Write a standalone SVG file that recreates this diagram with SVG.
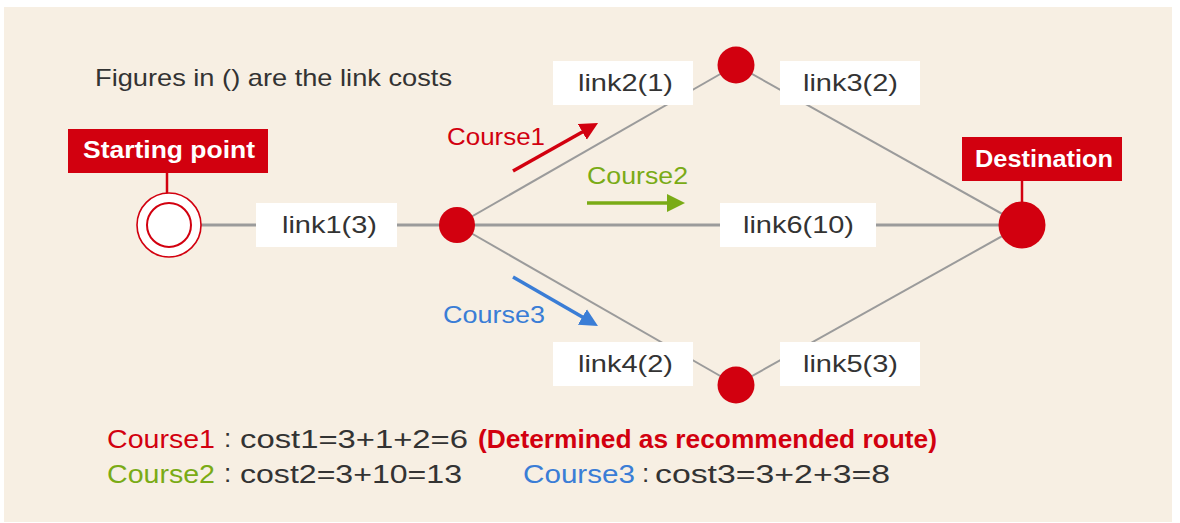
<svg xmlns="http://www.w3.org/2000/svg" width="1180" height="523" viewBox="0 0 1180 523">
  <style>
    text { font-family: "Liberation Sans", Arial, sans-serif; }
    .dark { fill: #333333; }
    .red { fill: #d2000f; }
    .green { fill: #7aab16; }
    .blue { fill: #3a7dd6; }
    .link { stroke: #9b9b9b; fill: none; }
    .thick { stroke-width: 3; }
    .thin { stroke-width: 2; }
    .box { fill: #ffffff; }
    .lbl { font-size: 24px; fill: #333333; }
    .tag { fill: #d2000f; }
    .tagtext { font-size: 23px; font-weight: bold; fill: #ffffff; }
    .node { fill: #d2000f; }
    .course { font-size: 23px; }
    .sum { font-size: 26px; }
  </style>
  <defs>
    <marker id="ah-red" markerUnits="userSpaceOnUse" markerWidth="20" markerHeight="20" refX="2" refY="10" orient="auto">
      <path d="M0,1 L18,10 L0,19 z" fill="#d2000f"/>
    </marker>
    <marker id="ah-green" markerUnits="userSpaceOnUse" markerWidth="20" markerHeight="20" refX="2" refY="10" orient="auto">
      <path d="M0,1 L18,10 L0,19 z" fill="#7aab16"/>
    </marker>
    <marker id="ah-blue" markerUnits="userSpaceOnUse" markerWidth="20" markerHeight="20" refX="2" refY="10" orient="auto">
      <path d="M0,1 L18,10 L0,19 z" fill="#3a7dd6"/>
    </marker>
  </defs>

  <rect x="0" y="0" width="1180" height="523" fill="#ffffff"/>
  <rect x="4" y="7" width="1168" height="515" fill="#f7efe3"/>

  <text class="dark" x="95" y="86" font-size="24" textLength="357" lengthAdjust="spacingAndGlyphs">Figures in () are the link costs</text>

  <g id="connectors">
    <line class="link thick" x1="201" y1="225" x2="457" y2="225"/>
    <line class="link thick" x1="457" y1="225" x2="1022" y2="225"/>
    <line class="link thin" x1="457" y1="225" x2="736" y2="65"/>
    <line class="link thin" x1="736" y1="65" x2="1022" y2="225"/>
    <line class="link thin" x1="457" y1="225" x2="736" y2="385"/>
    <line class="link thin" x1="736" y1="385" x2="1022" y2="225"/>
    <line x1="167" y1="173" x2="167" y2="194" stroke="#d2000f" stroke-width="2.5"/>
    <line x1="1022" y1="181" x2="1022" y2="202" stroke="#d2000f" stroke-width="2.5"/>
  </g>

  <g id="link-labels">
    <g id="link1"><rect class="box" x="256" y="203" width="141" height="44"/><text class="lbl" x="282" y="233" textLength="95" lengthAdjust="spacingAndGlyphs">link1(3)</text></g>
    <g id="link2"><rect class="box" x="553" y="61" width="140" height="44"/><text class="lbl" x="578" y="91" textLength="95" lengthAdjust="spacingAndGlyphs">link2(1)</text></g>
    <g id="link3"><rect class="box" x="780" y="61" width="140" height="44"/><text class="lbl" x="803" y="91" textLength="95" lengthAdjust="spacingAndGlyphs">link3(2)</text></g>
    <g id="link6"><rect class="box" x="720" y="203" width="156" height="44"/><text class="lbl" x="743" y="233" textLength="111" lengthAdjust="spacingAndGlyphs">link6(10)</text></g>
    <g id="link4"><rect class="box" x="553" y="342" width="140" height="44"/><text class="lbl" x="578" y="372" textLength="95" lengthAdjust="spacingAndGlyphs">link4(2)</text></g>
    <g id="link5"><rect class="box" x="780" y="342" width="140" height="44"/><text class="lbl" x="803" y="372" textLength="95" lengthAdjust="spacingAndGlyphs">link5(3)</text></g>
  </g>

  <g id="start">
    <circle cx="169" cy="225" r="32" fill="#ffffff" stroke="#d2000f" stroke-width="1.6"/>
    <circle cx="169" cy="225" r="22" fill="#ffffff" stroke="#d2000f" stroke-width="2"/>
  </g>
  <g id="start-label">
    <rect class="tag" x="68" y="129" width="200" height="44"/>
    <text class="tagtext" x="83" y="158" textLength="172" lengthAdjust="spacingAndGlyphs">Starting point</text>
  </g>

  <g id="hub"><circle class="node" cx="457" cy="225" r="18"/></g>
  <g id="upper"><circle class="node" cx="736" cy="65" r="18.5"/></g>
  <g id="lower"><circle class="node" cx="736" cy="385" r="18.5"/></g>
  <g id="destination"><circle class="node" cx="1022" cy="225" r="23.5"/></g>
  <g id="destination-label">
    <rect class="tag" x="962" y="137" width="160" height="44"/>
    <text class="tagtext" x="975" y="167" textLength="138" lengthAdjust="spacingAndGlyphs">Destination</text>
  </g>

  <g id="course1">
    <text class="course red" x="447" y="145" textLength="98" lengthAdjust="spacingAndGlyphs">Course1</text>
    <line x1="513" y1="171" x2="584.1" y2="130.9" stroke="#d2000f" stroke-width="3.5" marker-end="url(#ah-red)"/>
  </g>
  <g id="course2">
    <text class="course green" x="587" y="184" textLength="101" lengthAdjust="spacingAndGlyphs">Course2</text>
    <line x1="587" y1="203" x2="669" y2="203" stroke="#7aab16" stroke-width="3.5" marker-end="url(#ah-green)"/>
  </g>
  <g id="course3">
    <text class="course blue" x="443" y="323" textLength="102" lengthAdjust="spacingAndGlyphs">Course3</text>
    <line x1="513" y1="277" x2="584.1" y2="318" stroke="#3a7dd6" stroke-width="3.5" marker-end="url(#ah-blue)"/>
  </g>

  <g id="costs">
    <text class="sum red" x="107" y="448" textLength="108" lengthAdjust="spacingAndGlyphs">Course1</text>
    <text class="sum dark" x="224" y="447">:</text>
    <text class="sum dark" x="240" y="448" textLength="228" lengthAdjust="spacingAndGlyphs">cost1=3+1+2=6</text>
    <text class="red" x="478" y="448" font-size="25" font-weight="bold" textLength="459" lengthAdjust="spacingAndGlyphs">(Determined as recommended route)</text>

    <text class="sum green" x="107" y="483" textLength="108" lengthAdjust="spacingAndGlyphs">Course2</text>
    <text class="sum dark" x="224" y="482">:</text>
    <text class="sum dark" x="240" y="483" textLength="222" lengthAdjust="spacingAndGlyphs">cost2=3+10=13</text>

    <text class="sum blue" x="523" y="483" textLength="112" lengthAdjust="spacingAndGlyphs">Course3</text>
    <text class="sum dark" x="642" y="482">:</text>
    <text class="sum dark" x="655" y="483" textLength="235" lengthAdjust="spacingAndGlyphs">cost3=3+2+3=8</text>
  </g>
</svg>
